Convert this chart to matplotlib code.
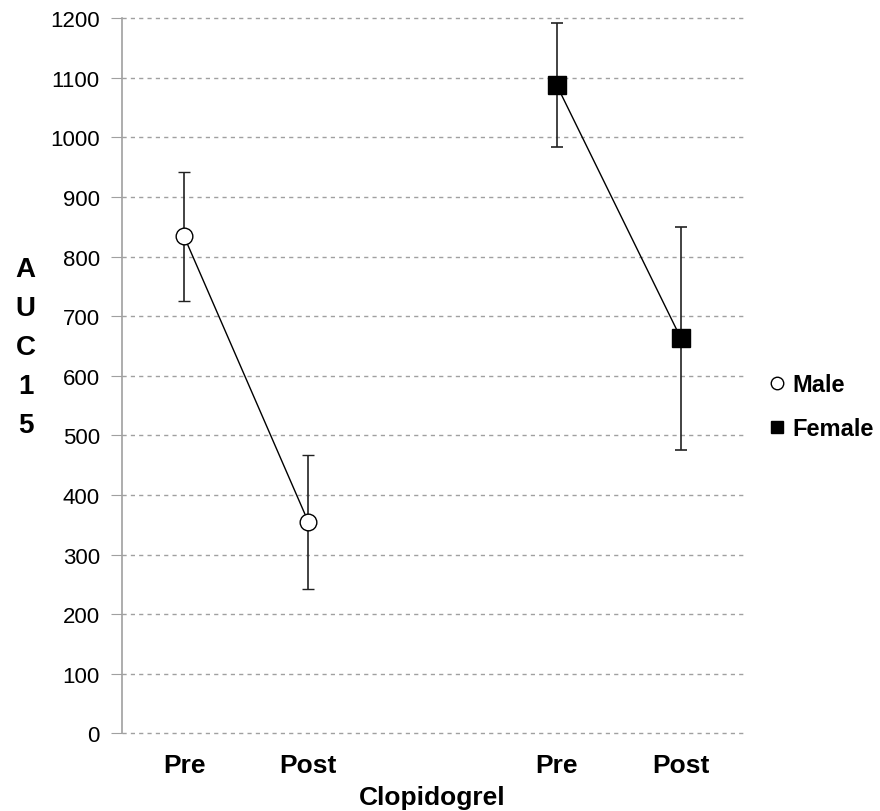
import numpy as np
import matplotlib
matplotlib.use('Agg')
import matplotlib.pyplot as plt
from matplotlib.lines import Line2D

plt.rcParams['font.family'] = ['Liberation Sans', 'DejaVu Sans']

# data
tick_labels = ['Pre', 'Post', 'Pre', 'Post']
male_x = [1, 2]
male_mean = [834, 355]
male_err = [108, 112]
female_x = [4, 5]
female_mean = [1088, 663]
female_err = [104, 187]

fig = plt.figure(figsize=(8.8, 8.12), dpi=100)
ax = fig.add_axes([0.1386, 0.0957, 0.7057, 0.8805])

for y in np.arange(0, 1201, 100):
    ax.axhline(y, color='#a0a0a0', ls=(0, (3, 3)), lw=1, zorder=0, clip_on=False)

ax.errorbar(male_x, male_mean, yerr=male_err, color='black', lw=1,
            marker='o', ms=12, mfc='white', mec='black', mew=1,
            ecolor='#222222', elinewidth=1.2, capsize=4.5, capthick=1.2,
            zorder=3)
ax.errorbar(female_x, female_mean, yerr=female_err, color='black', lw=1,
            marker='s', ms=13, mfc='black', mec='black',
            ecolor='#222222', elinewidth=1.2, capsize=4.5, capthick=1.2,
            zorder=3)

ax.set_xlim(0.5, 5.5)
ax.set_ylim(0, 1200)
ax.set_yticks(np.arange(0, 1201, 100))
ax.set_xticks(male_x + female_x)
ax.set_xticklabels(tick_labels, fontsize=19, fontweight='bold')
ax.tick_params(axis='x', length=0, pad=14)
ax.tick_params(axis='y', length=8, color='#a0a0a0', labelsize=16, pad=8)

for s in ['top', 'right', 'bottom']:
    ax.spines[s].set_visible(False)
ax.spines['left'].set_color('#a0a0a0')
ax.spines['left'].set_linewidth(1.2)

ax.set_xlabel('Clopidogrel', fontsize=19, fontweight='bold', labelpad=6)
fig.text(0.029, 0.571, 'A\nU\nC\n1\n5', fontsize=20, fontweight='bold',
         ha='center', va='center', linespacing=1.65)

h_male = Line2D([], [], ls='none', marker='o', ms=9, mfc='white', mec='black')
h_female = Line2D([], [], ls='none', marker='s', ms=9, mfc='black', mec='black')
ax.legend([h_male, h_female], ['Male', 'Female'], loc='center left',
          bbox_to_anchor=(1.005, 0.457), frameon=False, handlelength=0.8,
          handletextpad=0.25, labelspacing=0.9,
          prop={'size': 17, 'weight': 'bold'})

fig.savefig('out.png', dpi=100)
